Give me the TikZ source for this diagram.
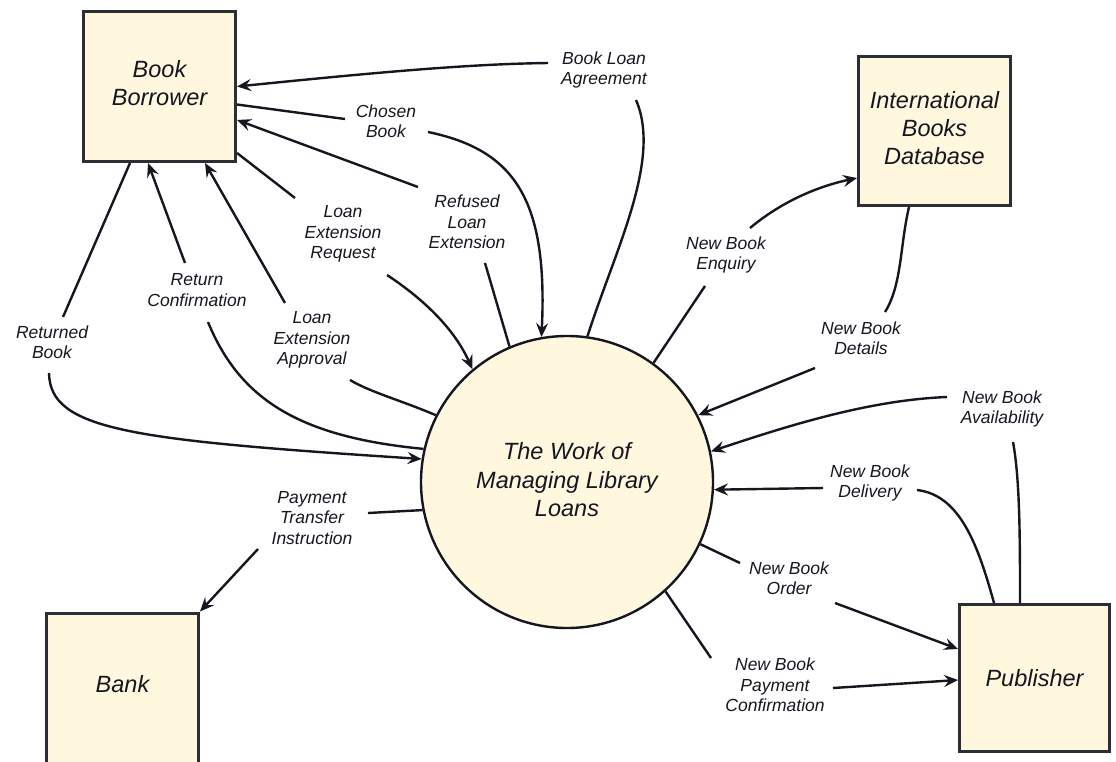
\documentclass[tikz,border=0pt]{standalone}
\usepackage{fontspec}
\setmainfont{Liberation Sans}
\usetikzlibrary{arrows.meta,calc}
\definecolor{cream}{RGB}{255,247,222}
\definecolor{ink}{RGB}{22,22,32}
\begin{document}
\begin{tikzpicture}[x=1pt,y=-1pt,
  flow/.style={line width=2.4pt, draw=ink},
  arr/.style={flow,-{Stealth[length=14pt,width=12pt,inset=5pt]}},
  ent/.style={draw=ink!90, line width=3pt, fill=cream, inner sep=0pt,
    font=\fontsize{23.5}{28}\selectfont\itshape, align=center, text=ink},
  proc/.style={circle, draw=ink, line width=2.4pt, fill=cream, minimum size=292pt,
    inner sep=0pt, font=\fontsize{23.5}{28.5}\selectfont\itshape, align=center, text=ink},
  lbl/.style={font=\fontsize{17.5}{20.5}\selectfont\itshape, align=center, text=ink, inner sep=0pt}]
\useasboundingbox (0,0) rectangle (1116,761);
\clip (0,0) rectangle (1116,761);

% entities and process
\node[ent, minimum width=152pt, minimum height=150pt] (bb) at (159.5,86.5) {};
\node[ent, minimum width=152pt, minimum height=149pt] (db) at (934.5,131) {};
\node[ent, minimum width=152pt, minimum height=170pt] (bank) at (122.5,698) {};
\node[ent, minimum width=150pt, minimum height=147pt] (pub) at (1034.5,678) {Publisher};
\node[proc] (c) at (567,482) {};
\node[ent, draw=none, fill=none] (bbt) at (159.5,83) {Book\\Borrower};
\node[ent, draw=none, fill=none] (dbt) at (934.5,128) {International\\Books\\Database};
\node[ent, draw=none, fill=none] (bankt) at (122.5,684) {Bank};
\node[proc, draw=none, fill=none] (ct) at (567,480) {The Work of\\Managing Library\\Loans};

% labels
\node[lbl] (l1) at (604,70) {Book Loan\\Agreement};
\node[lbl] (l2) at (386,121) {Chosen\\Book};
\node[lbl] (l3) at (467,222) {Refused\\Loan\\Extension};
\node[lbl] (l4) at (343,234) {Loan\\Extension\\Request};
\node[lbl] (l5) at (312,340) {Loan\\Extension\\Approval};
\node[lbl] (l6) at (197,290) {Return\\Confirmation};
\node[lbl] (l7) at (52,342) {Returned\\Book};
\node[lbl] (l8) at (312,518) {Payment\\Transfer\\Instruction};
\node[lbl] (l9) at (726,255) {New Book\\Enquiry};
\node[lbl] (l10) at (861,338) {New Book\\Details};
\node[lbl] (l11) at (1002,409) {New Book\\Availability};
\node[lbl] (l12) at (870,483) {New Book\\Delivery};
\node[lbl] (l13) at (789,578) {New Book\\Order};
\node[lbl] (l14) at (775,685) {New Book\\Payment\\Confirmation};

% free ends near labels
\coordinate (l1a) at (636,100); \coordinate (l1b) at (548,63);
\coordinate (l2a) at (345,119); \coordinate (l2b) at (428,132);
\coordinate (l3a) at (485,263); \coordinate (l3b) at (418,187);
\coordinate (l4a) at (295,198); \coordinate (l4b) at (387,275);
\coordinate (l5a) at (350,380); \coordinate (l5b) at (285,303);
\coordinate (l6a) at (208,322); \coordinate (l6b) at (185,263);
\coordinate (l7a) at (63,317);  \coordinate (l7b) at (49,373);
\coordinate (l8a) at (368,513); \coordinate (l8b) at (258,549);
\coordinate (l9a) at (705,286); \coordinate (l9b) at (750,228);
\coordinate (l10a) at (885,312); \coordinate (l10b) at (815,368);
\coordinate (l11a) at (1013,442); \coordinate (l11b) at (947,397);
\coordinate (l12a) at (917,490); \coordinate (l12b) at (823,488);
\coordinate (l13a) at (740,563); \coordinate (l13b) at (835,603);
\coordinate (l14a) at (711,658); \coordinate (l14b) at (833,688);

% Book Loan Agreement
\draw[flow] (c.82) .. controls (615,250) and (662,160) .. (l1a);
\draw[arr] (l1b) .. controls (470,64) and (380,72) .. (bb.east);
% Chosen Book
\draw[flow] ([yshift=-18pt]bb.east) -- (l2a);
\draw[arr] (l2b) .. controls (515,150) and (548,200) .. (c.100);
% Refused Loan Extension
\draw[flow] (c.113) -- (l3a);
\draw[arr] (l3b) -- ([yshift=-33.5pt]bb.east);
% Loan Extension Request
\draw[flow] ([yshift=-66.5pt]bb.east) -- (l4a);
\draw[arr] (l4b) .. controls (425,300) and (455,330) .. (c.130);
% Loan Extension Approval
\draw[flow] (c.153) .. controls (400,400) and (370,392) .. (l5a);
\draw[arr] (l5b) -- ([xshift=45.5pt]bb.south);
% Return Confirmation
\draw[flow] (c.167) .. controls (300,437) and (240,400) .. (l6a);
\draw[arr] (l6b) -- ([xshift=-11.5pt]bb.south);
% Returned Book
\draw[flow] ([xshift=-29.5pt]bb.south) -- (l7a);
\draw[arr] (l7b) .. controls (50,430) and (130,440) .. (c.171);
% Payment Transfer Instruction
\draw[flow] (c.191) -- (l8a);
\draw[arr] (l8b) -- (bank.north east);
% New Book Enquiry
\draw[flow] (c.54) -- (l9a);
\draw[arr] (l9b) .. controls (780,203) and (815,187) .. ([yshift=-47pt]db.west);
% New Book Details
\draw[flow] ([xshift=-25.5pt]db.south) .. controls (900,245) and (902,285) .. (l10a);
\draw[arr] (l10b) -- (c.27);
% New Book Availability
\draw[flow] ([xshift=-14.5pt]pub.north) .. controls (1020,540) and (1020,480) .. (l11a);
\draw[arr] (l11b) .. controls (870,400) and (790,425) .. (c.12);
% New Book Delivery
\draw[flow] ([xshift=-40.5pt]pub.north) .. controls (978,545) and (960,495) .. (l12a);
\draw[arr] (l12b) -- (c.-3);
% New Book Order
\draw[flow] (c.-25) -- (l13a);
\draw[arr] (l13b) -- ([yshift=29pt]pub.west);
% New Book Payment Confirmation
\draw[flow] (c.-48) -- (l14a);
\draw[arr] (l14b) -- ([yshift=-2pt]pub.west);
\end{tikzpicture}
\end{document}
